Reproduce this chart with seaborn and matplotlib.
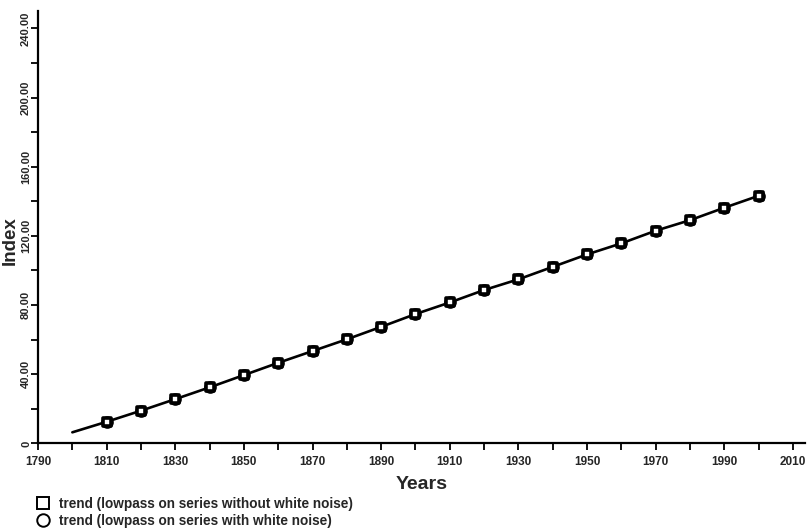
import matplotlib
matplotlib.use("Agg")
import matplotlib.pyplot as plt
from matplotlib.lines import Line2D
from matplotlib.ticker import MultipleLocator, FixedLocator, FuncFormatter
import numpy as np
import pandas as pd
import seaborn as sns

# Trend line (lowpass output), one value per decade
years = [1800, 1810, 1820, 1830, 1840, 1850, 1860, 1870, 1880, 1890, 1900,
         1910, 1920, 1930, 1940, 1950, 1960, 1970, 1980, 1990, 2000]
trend = [6.4, 12.5, 18.9, 25.6, 32.4, 39.5, 46.6, 53.4, 60.2, 67.4, 74.8,
         81.5, 88.7, 94.9, 102.1, 109.3, 115.7, 123.0, 129.1, 136.3, 143.2]

# Marked points for the two filtered series
marker_years = years[1:]
trend_no_noise = trend[1:]
trend_with_noise = trend[1:]

x_tick_labels = [1790, 1810, 1830, 1850, 1870, 1890, 1910, 1930, 1950, 1970, 1990, 2010]
y_tick_labels = [0, 40, 80, 120, 160, 200, 240]

sns.set_theme(style="ticks")
plt.rcParams["font.family"] = ["Liberation Sans", "DejaVu Sans"]

fig = plt.figure(figsize=(8.09, 5.31), dpi=100)
ax = fig.add_axes([0.047, 0.165, 0.948, 0.814])

line_df = pd.DataFrame({"year": years, "value": trend})
sq_df = pd.DataFrame({"year": marker_years, "value": trend_no_noise})
ci_df = pd.DataFrame({"year": marker_years, "value": trend_with_noise})

sns.lineplot(data=line_df, x="year", y="value", ax=ax, color="black", lw=1.9, zorder=2)
sns.scatterplot(data=ci_df, x="year", y="value", ax=ax, marker="o", s=45,
                facecolor="white", edgecolor="black", linewidth=2.4, zorder=3)
sns.scatterplot(data=sq_df, x="year", y="value", ax=ax, marker="s", s=38,
                facecolor="white", edgecolor="black", linewidth=2.6, zorder=4)

ax.set_xlim(1790, 2013.5)
ax.set_ylim(0, 250)

ax.xaxis.set_major_locator(FixedLocator(x_tick_labels))
ax.xaxis.set_minor_locator(MultipleLocator(10))
ax.yaxis.set_major_locator(FixedLocator(y_tick_labels))
ax.yaxis.set_minor_locator(MultipleLocator(20))
ax.yaxis.set_major_formatter(FuncFormatter(lambda v, p: "0" if v == 0 else f"{v:.2f}"))

ax.tick_params(axis="both", which="both", direction="out", length=5, width=1.3, color="black")
ax.tick_params(axis="x", which="major", labelsize=8.5, pad=4)
ax.tick_params(axis="y", which="major", labelsize=8, pad=0)
for lab in ax.get_xticklabels():
    lab.set_fontweight("bold")
for lab in ax.get_yticklabels():
    lab.set_fontweight("bold")
    lab.set_rotation(90)
    lab.set_va("center")

sns.despine(ax=ax)
for side in ("left", "bottom"):
    ax.spines[side].set_linewidth(1.6)
    ax.spines[side].set_color("black")

ax.set_xlabel("Years", fontsize=14, fontweight="bold", labelpad=6)
ax.set_ylabel("Index", fontsize=13.5, fontweight="bold", va="center")
ax.yaxis.set_label_coords(-0.036, 0.47)

handles = [
    Line2D([], [], marker="s", linestyle="none", markersize=8, markerfacecolor="white",
           markeredgecolor="black", markeredgewidth=1.4),
    Line2D([], [], marker="o", linestyle="none", markersize=9, markerfacecolor="white",
           markeredgecolor="black", markeredgewidth=1.4),
]
labels = ["trend (lowpass on series without white noise)",
          "trend (lowpass on series with white noise)"]
leg = fig.legend(handles, labels, loc="upper left", bbox_to_anchor=(0.038, 0.074),
                 frameon=False, prop={"size": 9.8, "weight": "bold"},
                 handlelength=1.0, handletextpad=0.7, labelspacing=0.2, borderaxespad=0)

fig.savefig("out.png", dpi=100)
